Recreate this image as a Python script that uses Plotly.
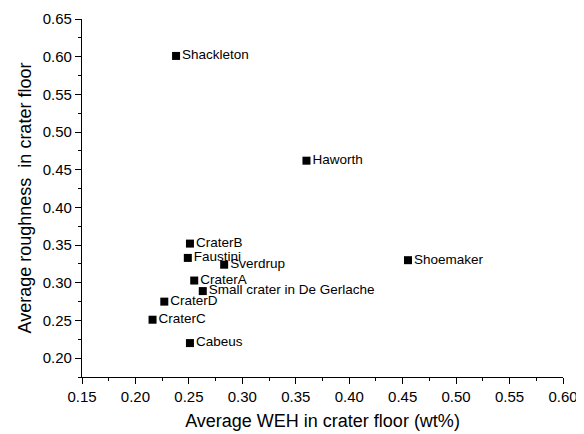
import plotly.graph_objects as go

names = ["Shackleton", "Haworth", "Shoemaker", "CraterB", "Faustini", "Sverdrup",
         "CraterA", "Small crater in De Gerlache", "CraterD", "CraterC", "Cabeus"]
weh = [0.238, 0.360, 0.455, 0.251, 0.249, 0.283, 0.255, 0.263, 0.227, 0.216, 0.251]
roughness = [0.601, 0.462, 0.330, 0.352, 0.333, 0.324, 0.303, 0.289, 0.275, 0.251, 0.220]

font = "Liberation Sans, Arial, sans-serif"

fig = go.Figure(go.Scatter(
    x=weh, y=roughness, mode="markers+text", text=names,
    textposition="middle right",
    marker=dict(symbol="square", size=8, color="black"),
    textfont=dict(family=font, size=13.5, color="black"),
    cliponaxis=False,
))

# page body has an 8px default margin; compensate so the plot lands where the reference has it
fig.update_layout(
    width=576, height=426,
    margin=dict(l=74, r=21, t=11, b=57, autoexpand=False),
    plot_bgcolor="white", paper_bgcolor="white",
    showlegend=False,
    font=dict(family=font, color="black"),
)
fig.update_xaxes(
    range=[0.15, 0.60], dtick=0.05, tick0=0.15, tickformat=".2f", automargin=False,
    showgrid=False, zeroline=False, showline=True, linecolor="black", linewidth=1.2,
    ticks="outside", ticklen=6, tickwidth=1, tickcolor="black",
    minor=dict(ticks="outside", ticklen=3, dtick=0.025, tickcolor="black"),
    tickfont=dict(size=15),
    title=dict(text="Average WEH in crater floor (wt%)", font=dict(size=18), standoff=10),
)
fig.update_yaxes(
    range=[0.175, 0.65], dtick=0.05, tick0=0.2, tickformat=".2f", automargin=False,
    showgrid=False, zeroline=False, showline=True, linecolor="black", linewidth=1.2,
    ticks="outside", ticklen=6, tickwidth=1, tickcolor="black",
    minor=dict(ticks="outside", ticklen=3, dtick=0.025, tickcolor="black"),
    tickfont=dict(size=15),
    title=dict(text="Average roughness\u00a0 in crater floor", font=dict(size=18), standoff=6),
)

fig.write_html("out.html")
